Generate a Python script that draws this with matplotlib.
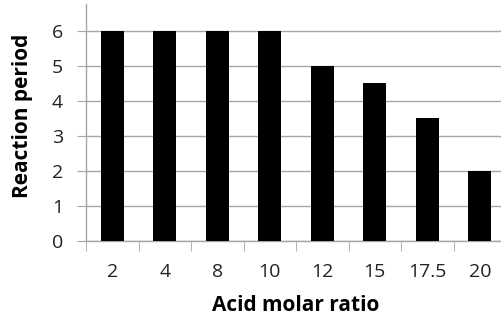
import matplotlib
matplotlib.use("Agg")
import matplotlib.pyplot as plt
import numpy as np

# acid molar ratio vs reaction period
ratios = ["2", "4", "8", "10", "12", "15", "17.5", "20"]
period = [6, 6, 6, 6, 5, 4.5, 3.5, 2]

plt.rcParams["font.family"] = ["Open Sans", "DejaVu Sans"]

fig = plt.figure(figsize=(5.01, 3.16), dpi=100)
ax = fig.add_axes([86 / 501, 75 / 316, 420 / 501, 237 / 316])

x = np.arange(len(ratios))
ax.bar(x, period, width=0.43, color="black", zorder=3)

ax.set_xlim(-0.5, len(ratios) - 0.5)
ax.set_ylim(0, 6.77)
ax.set_yticks(range(0, 7))
ax.set_xticks(x)
ax.set_xticklabels(ratios)
ax.set_xticks(np.arange(-0.5, len(ratios), 1), minor=True)

ax.yaxis.grid(True, color="#a6a6a6", linewidth=1, zorder=0)
for s in ["top", "right"]:
    ax.spines[s].set_visible(False)
for s in ["left", "bottom"]:
    ax.spines[s].set_color("#a6a6a6")
    ax.spines[s].set_linewidth(1)

ax.tick_params(axis="x", which="major", length=0, labelsize=14, pad=16, colors="#222222")
ax.tick_params(axis="x", which="minor", length=7, color="#a6a6a6", direction="out")
ax.tick_params(axis="y", length=6.5, pad=10, color="#a6a6a6", labelsize=14)
for t in ax.get_yticklabels():
    t.set_color("#222222")

ax.set_xlabel("Acid molar ratio", fontsize=15, fontweight="bold", labelpad=10)
ax.set_ylabel("Reaction period", fontsize=15, fontweight="bold")
ax.yaxis.set_label_coords(-0.127, 0.53)

fig.savefig("out.png", dpi=100)
